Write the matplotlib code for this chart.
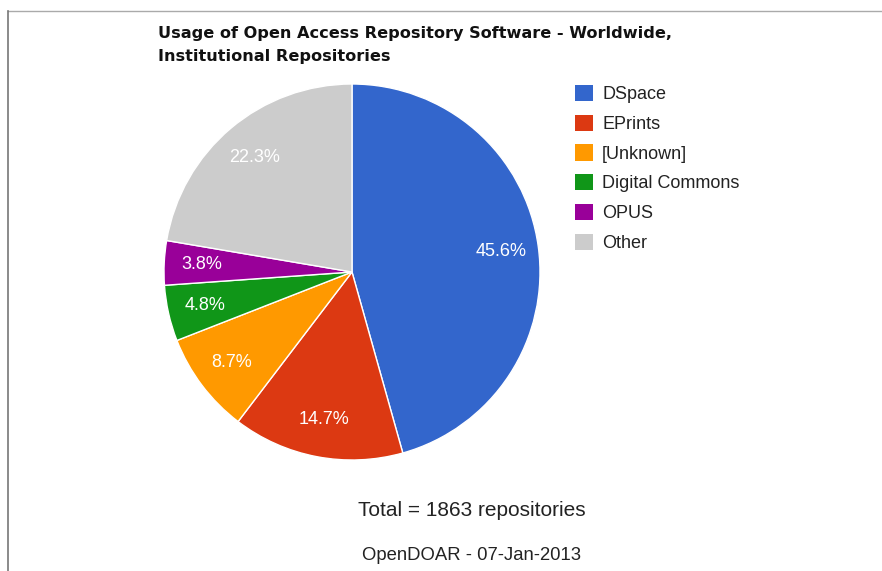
import matplotlib.pyplot as plt
from matplotlib.lines import Line2D
from matplotlib.patches import Patch

# repository software share
software = ['DSpace', 'EPrints', '[Unknown]', 'Digital Commons', 'OPUS', 'Other']
share = [45.6, 14.7, 8.7, 4.8, 3.8, 22.3]
colors = ['#3366cc', '#dc3912', '#ff9900', '#109618', '#990099', '#cccccc']

plt.rcParams['font.family'] = ['Liberation Sans', 'DejaVu Sans']

W, H = 882, 571
fig = plt.figure(figsize=(W / 100, H / 100), dpi=100, facecolor='white')

# pie axes placed over the pixel box of the disc
cx, cy, r = 352, 272, 188
ax = fig.add_axes([(cx - r) / W, (H - cy - r) / H, 2 * r / W, 2 * r / H])
wedges, texts, autotexts = ax.pie(
    share, colors=colors, startangle=90, counterclock=False,
    autopct='%1.1f%%', pctdistance=0.8,
    wedgeprops=dict(edgecolor='white', linewidth=1),
    textprops=dict(color='white', fontsize=13))
ax.set_xlim(-1, 1)
ax.set_ylim(-1, 1)
ax.set_aspect('equal')
ax.axis('off')

fig.text(158 / W, 1 - 45 / H, 'Usage of Open Access Repository Software - Worldwide,\nInstitutional Repositories',
         fontsize=11.6, fontweight='bold', family='DejaVu Sans', ha='left', va='center',
         linespacing=1.68, color='#111111')

handles = [Patch(facecolor=c, edgecolor='none') for c in colors]
fig.legend(handles, software, loc='upper left', bbox_to_anchor=(575 / W, 1 - 85 / H),
           frameon=False, fontsize=13, handlelength=1.0, handleheight=1.0,
           handletextpad=0.5, labelspacing=0.635, borderpad=0, borderaxespad=0,
           labelcolor='#222222')

fig.text(472 / W, 1 - 511 / H, 'Total = 1863 repositories', fontsize=15,
         ha='center', va='center', color='#222222')
fig.text(472 / W, 1 - 556 / H, 'OpenDOAR - 07-Jan-2013', fontsize=13.3,
         ha='center', va='center', color='#222222')

# frame lines of the original screenshot
fig.add_artist(Line2D([7.5 / W, 1], [1 - 11 / H, 1 - 11 / H], color='#aaaaaa', lw=1))
fig.add_artist(Line2D([7.5 / W, 7.5 / W], [0, 1 - 11 / H], color='#777777', lw=1.2))

fig.savefig('out.png', dpi=100, facecolor='white')
